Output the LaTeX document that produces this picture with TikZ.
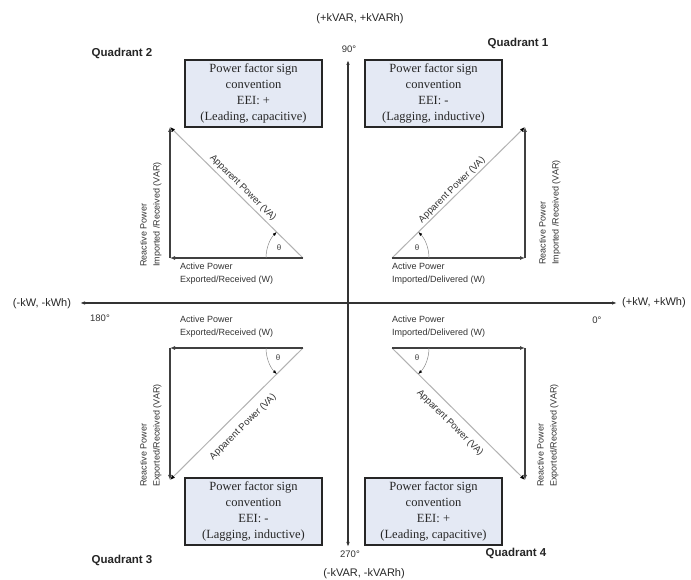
\documentclass[tikz,border=0pt]{standalone}
\usepackage{fontspec}
\setmainfont{Liberation Serif}
\setsansfont{Liberation Sans}
\usetikzlibrary{arrows.meta}
\definecolor{boxblue}{HTML}{E4E9F4}
\begin{document}
\begin{tikzpicture}[x=1pt,y=1pt,
  axis/.style={draw=black!80, line width=1.1pt, {Latex[length=5pt,width=3.5pt]}-{Latex[length=5pt,width=3.5pt]}},
  leg/.style={draw=black!75, line width=1.3pt, -{Latex[length=5pt,width=4pt]}},
  hyp/.style={draw=black!30, line width=1pt, -{Latex[length=5pt,width=4pt,color=black]}},
  ang/.style={draw=black!45, line width=0.5pt, -{Latex[length=4pt,width=3pt,color=black]}},
  pfbox/.style={draw=black!85, line width=1.8pt, fill=boxblue, minimum width=137pt, minimum height=67pt, inner sep=0pt, align=center, font=\fontsize{12.5}{16}\selectfont, text=black!85},
  lbl/.style={font=\sffamily\fontsize{9}{13}\selectfont, text=black!80, inner sep=0pt, align=left},
  app/.style={font=\sffamily\fontsize{9.5}{11}\selectfont, text=black!80, inner sep=0pt},
  quad/.style={font=\sffamily\bfseries\fontsize{11.5}{13}\selectfont, text=black!85, inner sep=0pt},
  axlbl/.style={font=\sffamily\fontsize{11}{13}\selectfont, text=black!85, inner sep=0pt},
  deg/.style={font=\sffamily\fontsize{9.5}{11}\selectfont, text=black!80, inner sep=0pt},
  th/.style={font=\sffamily\fontsize{8}{10}\selectfont, text=black!75, inner sep=0pt},
]
\useasboundingbox (0,0) rectangle (691,580);
\fill[white] (0,0) rectangle (691,580);

% axes
\coordinate (xl) at (80,277);
\coordinate (xr) at (617,277);
\coordinate (yb) at (348,33);
\coordinate (yt) at (348,520);
\draw[axis] (xl) -- (xr);
\draw[axis] (yb) -- (yt);

% axis labels
\node[axlbl] (lkvarp) at (360,561) {(+kVAR, +kVARh)};
\node[axlbl] (lkvarm) at (364,6) {(-kVAR, -kVARh)};
\node[axlbl] (lkwm) at (42,276) {(-kW, -kWh)};
\node[axlbl, anchor=west] (lkwp) at (622,277) {(+kW, +kWh)};
\node[deg] (d90) at (349,531) {90°};
\node[deg] (d180) at (100,262) {180°};
\node[deg] (d0) at (597,260) {0°};
\node[deg] (d270) at (350,26) {270°};

% quadrant labels
\node[quad] (q1) at (518,537) {Quadrant 1};
\node[quad] (q2) at (122,527) {Quadrant 2};
\node[quad] (q3) at (122,20) {Quadrant 3};
\node[quad] (q4) at (516,27) {Quadrant 4};

% boxes
\node[pfbox] (b2) at (253.5,486.5) {Power factor sign\\convention\\EEI: +\\(Leading, capacitive)};
\node[pfbox] (b1) at (433.5,486.5) {Power factor sign\\convention\\EEI: -\\(Lagging, inductive)};
\node[pfbox] (b3) at (253.5,68.5) {Power factor sign\\convention\\EEI: -\\(Lagging, inductive)};
\node[pfbox] (b4) at (433.5,68.5) {Power factor sign\\convention\\EEI: +\\(Leading, capacitive)};

% Quadrant 1 triangle
\coordinate (A1) at (392,322);
\coordinate (B1) at (525,322);
\coordinate (C1) at (525,453);
\draw[hyp] (A1) -- (C1);
\draw[leg] (A1) -- (B1);
\draw[leg] (B1) -- (C1);
\draw[ang] ([shift={(0:37)}]A1) arc[start angle=0,end angle=44.6,radius=37];
\node[th] (t1) at (417,332) {θ};
\node[lbl, anchor=north west] (ap1) at (392,317) {Active Power\\Imported/Delivered (W)};
\node[lbl, rotate=90, anchor=north west] (rp1) at (539,315) {Reactive Power\\Imported /Received (VAR)};
\node[app, rotate=44.6] (va1) at (452,390) {Apparent Power (VA)};

% Quadrant 2 triangle
\coordinate (A2) at (303,322);
\coordinate (B2) at (170,322);
\coordinate (C2) at (170,453);
\draw[hyp] (A2) -- (C2);
\draw[leg] (A2) -- (B2);
\draw[leg] (B2) -- (C2);
\draw[ang] ([shift={(180:37)}]A2) arc[start angle=180,end angle=135.4,radius=37];
\node[th] (t2) at (279,332) {θ};
\node[lbl, anchor=north west] (ap2) at (180,317) {Active Power\\Exported/Received (W)};
\node[lbl, rotate=90, anchor=north west] (rp2) at (140,313) {Reactive Power\\Imported /Received (VAR)};
\node[app, rotate=-44.6] (va2) at (243,392) {Apparent Power (VA)};

% Quadrant 3 triangle
\coordinate (A3) at (303,232);
\coordinate (B3) at (170,232);
\coordinate (C3) at (170,100);
\draw[hyp] (A3) -- (C3);
\draw[leg] (A3) -- (B3);
\draw[leg] (B3) -- (C3);
\draw[ang] ([shift={(180:37)}]A3) arc[start angle=180,end angle=224.8,radius=37];
\node[th] (t3) at (278,222) {θ};
\node[lbl, anchor=north west] (ap3) at (180,264) {Active Power\\Exported/Received (W)};
\node[lbl, rotate=90, anchor=north west] (rp3) at (140,93) {Reactive Power\\Exported/Received (VAR)};
\node[app, rotate=44.8] (va3) at (243,153) {Apparent Power (VA)};

% Quadrant 4 triangle
\coordinate (A4) at (392,232);
\coordinate (B4) at (525,232);
\coordinate (C4) at (525,100);
\draw[hyp] (A4) -- (C4);
\draw[leg] (A4) -- (B4);
\draw[leg] (B4) -- (C4);
\draw[ang] ([shift={(0:37)}]A4) arc[start angle=0,end angle=-44.8,radius=37];
\node[th] (t4) at (417,222) {θ};
\node[lbl, anchor=north west] (ap4) at (392,264) {Active Power\\Imported/Delivered (W)};
\node[lbl, rotate=90, anchor=north west] (rp4) at (537,93) {Reactive Power\\Exported/Received (VAR)};
\node[app, rotate=-44.8] (va4) at (450,157) {Apparent Power (VA)};
\end{tikzpicture}
\end{document}
